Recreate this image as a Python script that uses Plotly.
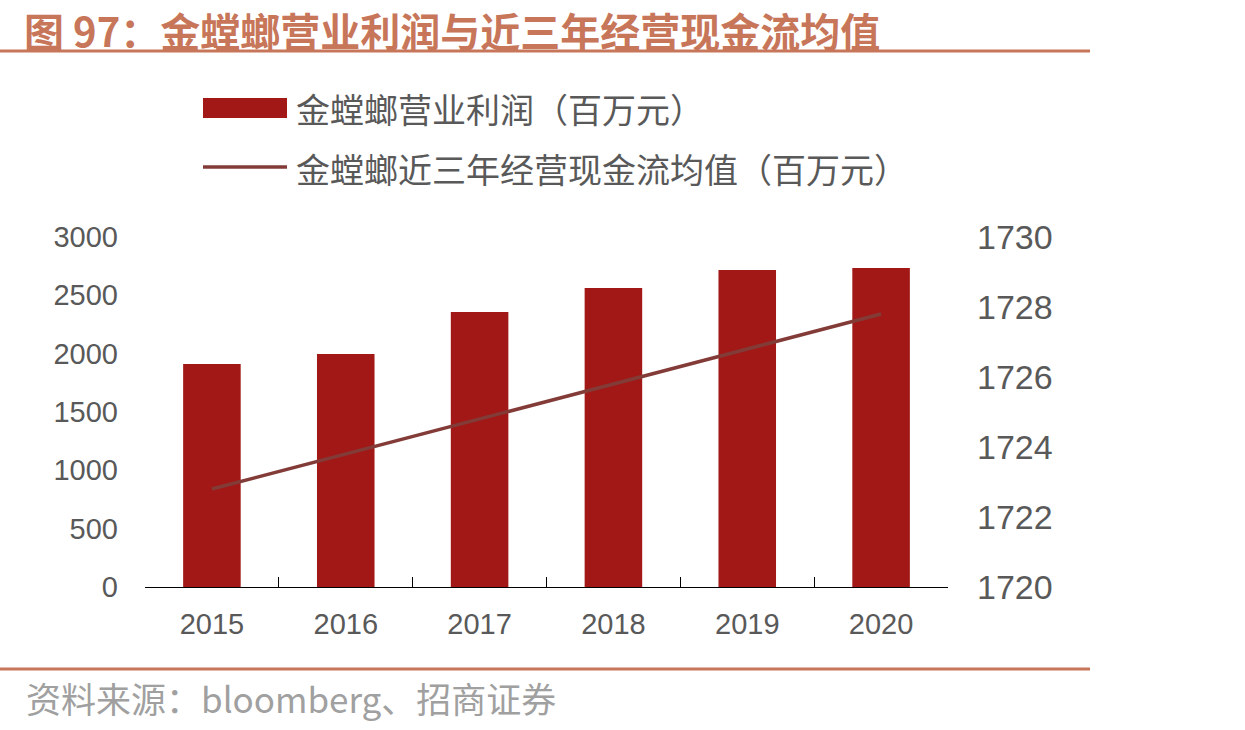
import plotly.graph_objects as go

years = ["2015", "2016", "2017", "2018", "2019", "2020"]
op_profit = [1911, 1997, 2357, 2563, 2717, 2734]
cash_flow_avg = [1722.8, 1723.8, 1724.8, 1725.8, 1726.8, 1727.8]

bar_name = "金螳螂营业利润（百万元）"
line_name = "金螳螂近三年经营现金流均值（百万元）"
title_text = "图 97：金螳螂营业利润与近三年经营现金流均值"
source_text = "资料来源：bloomberg、招商证券"

W, H = 1245, 730
L, R, T, B = 145, 948, 237, 587


def px(x):
    return (x - L) / (R - L)


def py(y):
    return (B - y) / (B - T)


BAR_COLOR = "#A11816"
LINE_COLOR = "#833B38"
ACCENT = "#C8765A"
TXT = "#595959"
FONT = "Liberation Sans, Noto Sans CJK SC, sans-serif"
CJK = "Noto Sans CJK SC, sans-serif"

fig = go.Figure()
fig.add_trace(go.Bar(x=years, y=op_profit, name=bar_name, marker_color=BAR_COLOR,
                     marker_line_width=0, yaxis="y"))
fig.add_trace(go.Scatter(x=years, y=cash_flow_avg, name=line_name, mode="lines",
                         line=dict(color=LINE_COLOR, width=3.5), yaxis="y2"))

fig.update_layout(
    width=W, height=H,
    margin=dict(l=L, r=W - R, t=T, b=H - B),
    paper_bgcolor="white", plot_bgcolor="white",
    showlegend=False,
    bargap=0.57,
    font=dict(family=FONT, color=TXT, size=28),
    xaxis=dict(type="category", showline=True, linecolor="black", linewidth=1,
               ticks="inside", tickson="boundaries", ticklen=10, tickcolor="black",
               showgrid=False, tickfont=dict(size=29, color=TXT), ticklabelstandoff=11),
    yaxis=dict(range=[0, 3000], dtick=500, showgrid=False, zeroline=False, showline=False,
               tickfont=dict(size=29, color=TXT), ticklabelstandoff=26),
    yaxis2=dict(range=[1720, 1730], dtick=2, overlaying="y", side="right",
                showgrid=False, zeroline=False, showline=False,
                tickfont=dict(size=34, color=TXT), ticklabelstandoff=28),
)

shapes = [
    dict(type="line", xref="paper", yref="paper", x0=px(0), x1=px(1090), y0=py(51), y1=py(51),
         line=dict(color=ACCENT, width=3)),
    dict(type="line", xref="paper", yref="paper", x0=px(0), x1=px(1090), y0=py(669), y1=py(669),
         line=dict(color=ACCENT, width=3)),
    dict(type="rect", xref="paper", yref="paper", x0=px(203), x1=px(287), y0=py(98), y1=py(118),
         fillcolor=BAR_COLOR, line=dict(width=0)),
    dict(type="line", xref="paper", yref="paper", x0=px(203), x1=px(287), y0=py(167), y1=py(167),
         line=dict(color=LINE_COLOR, width=3.5)),
]
annotations = [
    dict(text=f"<b>{title_text}</b>", xref="paper", yref="paper", x=px(22), y=py(29.5),
         xanchor="left", yanchor="middle", showarrow=False,
         font=dict(family=CJK, size=40, color=ACCENT)),
    dict(text=bar_name, xref="paper", yref="paper", x=px(294), y=py(108),
         xanchor="left", yanchor="middle", showarrow=False,
         font=dict(family=CJK, size=34, color=TXT)),
    dict(text=line_name, xref="paper", yref="paper", x=px(294), y=py(168),
         xanchor="left", yanchor="middle", showarrow=False,
         font=dict(family=CJK, size=34, color=TXT)),
    dict(text=source_text, xref="paper", yref="paper", x=px(24), y=py(697),
         xanchor="left", yanchor="middle", showarrow=False,
         font=dict(family=CJK, size=35, color="#A0A0A0")),
]
fig.update_layout(shapes=shapes, annotations=annotations)

fig.write_html("out.html")
